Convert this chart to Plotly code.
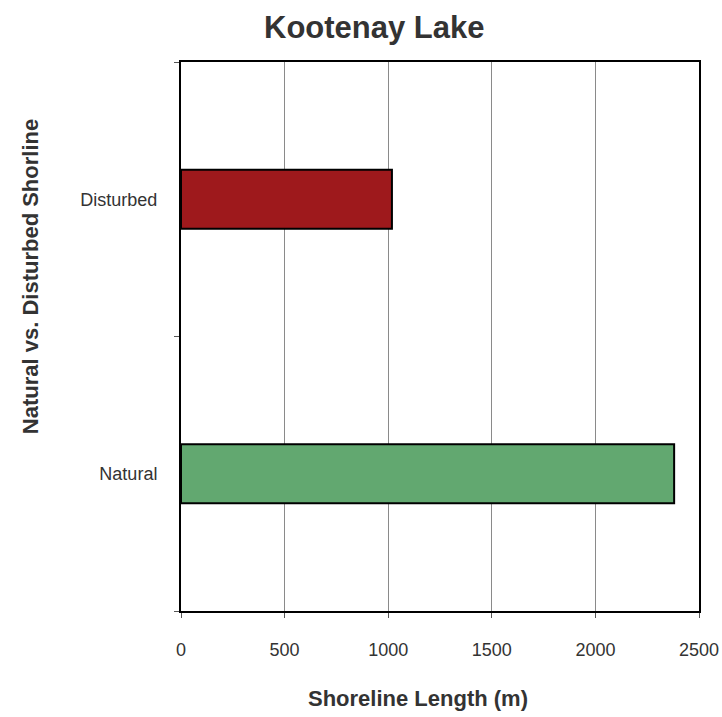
import plotly.graph_objects as go

categories = ['Natural', 'Disturbed']
lengths = [2380, 1018]
bar_colors = ['#62A870', '#9E191C']
x_ticks = [0, 500, 1000, 1500, 2000, 2500]

FONT = 'Liberation Sans, Arial, sans-serif'
TEXT = '#333333'

fig = go.Figure()
fig.add_trace(go.Bar(x=lengths, y=categories,
                     orientation='h',
                     marker=dict(color=bar_colors,
                                 line=dict(color='black', width=2)),
                     width=0.215,
                     showlegend=False))

fig.update_layout(
    width=722, height=717,
    margin=dict(l=181, r=23, t=62, b=106),
    paper_bgcolor='white', plot_bgcolor='white',
    font=dict(family=FONT, color=TEXT),
    showlegend=False,
)

fig.add_annotation(text='<b>Kootenay Lake</b>', xref='paper', yref='paper',
                   x=0.3726, y=1.0637, xanchor='center', yanchor='middle',
                   showarrow=False, font=dict(size=31, family=FONT, color=TEXT))
fig.add_annotation(text='<b>Shoreline Length (m)</b>', xref='paper', yref='paper',
                   x=0.4575, y=-0.1585, xanchor='center', yanchor='middle',
                   showarrow=False, font=dict(size=22, family=FONT, color=TEXT))
fig.add_annotation(text='<b>Natural vs. Disturbed Shorline</b>', xref='paper', yref='paper',
                   x=-0.2915, y=0.608, xanchor='center', yanchor='middle', textangle=-90,
                   showarrow=False, font=dict(size=22, family=FONT, color=TEXT))

fig.update_xaxes(range=[0, 2500], tickvals=x_ticks,
                 showgrid=True, gridcolor='#8a8a8a', gridwidth=1,
                 showline=True, linecolor='black', linewidth=2, mirror=True,
                 ticks='outside', ticklen=5, tickcolor='#555555',
                 ticklabelstandoff=16, ticklabeloverflow='allow',
                 tickfont=dict(size=18, family=FONT, color=TEXT),
                 automargin=False, zeroline=False)

fig.update_yaxes(type='category', categoryorder='array', categoryarray=categories,
                 range=[-0.5, 1.5], tickson='boundaries',
                 showgrid=False,
                 showline=True, linecolor='black', linewidth=2, mirror=True,
                 ticks='outside', ticklen=5, tickcolor='#555555',
                 ticklabelstandoff=18,
                 tickfont=dict(size=18, family=FONT, color=TEXT),
                 automargin=False)

# drop the default 8px body margin so the figure fills the window
fig.write_html('out.html', config={'displayModeBar': False},
               post_script="document.body.style.margin='0';")
